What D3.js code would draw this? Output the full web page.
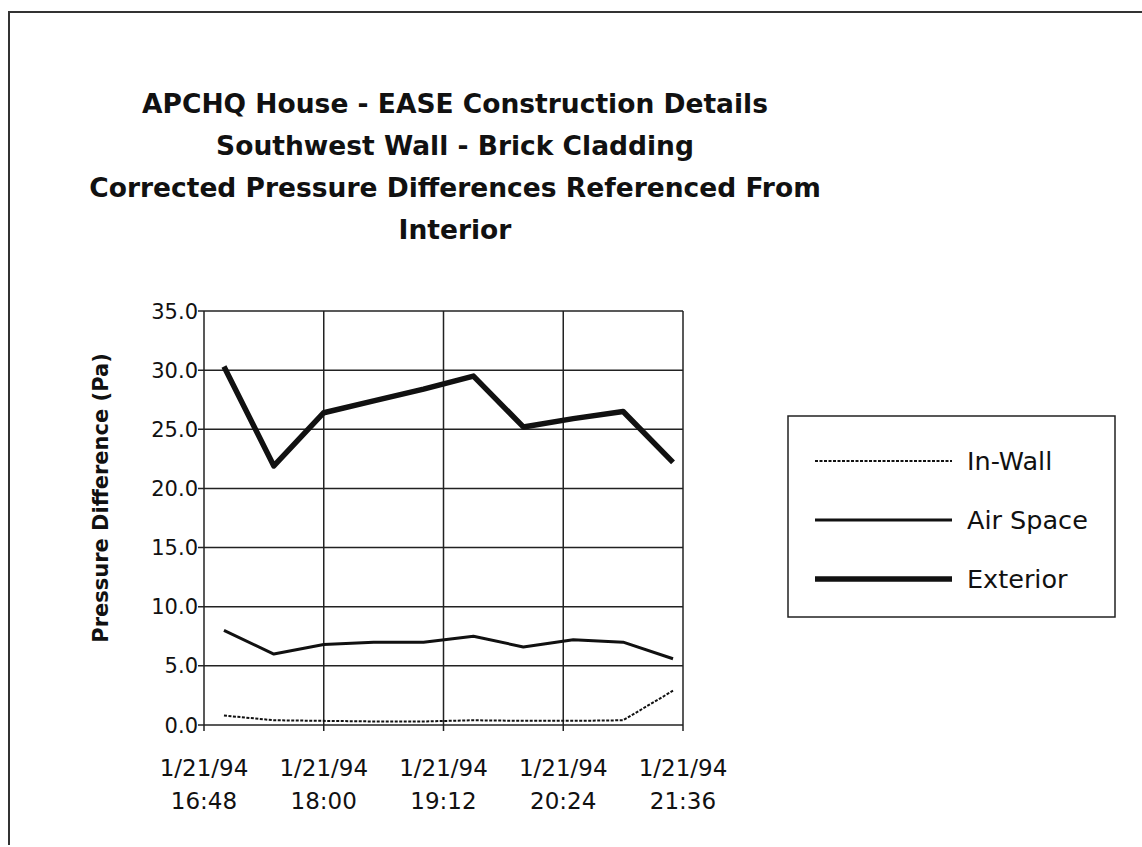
<!DOCTYPE html>
<meta charset="utf-8">
<style>
  body { margin: 0; background: #fff; }
  text { font-family: "DejaVu Sans", sans-serif; fill: #111; }
</style>
<body>
<script src="https://cdn.jsdelivr.net/npm/d3@7"></script>
<script>

// readings every half hour, 1/21/94
var times = ["17:00", "17:30", "18:00", "18:30", "19:00", "19:30", "20:00", "20:30", "21:00", "21:30"];
var inWall = [0.8, 0.4, 0.35, 0.3, 0.3, 0.4, 0.35, 0.35, 0.4, 2.9];
var airSpace = [8.0, 6.0, 6.8, 7.0, 7.0, 7.5, 6.6, 7.2, 7.0, 5.6];
var exterior = [30.3, 21.9, 26.4, 27.4, 28.4, 29.5, 25.2, 25.9, 26.5, 22.2];

var xTicks = ["16:48", "18:00", "19:12", "20:24", "21:36"];
var yTicks = [0, 5, 10, 15, 20, 25, 30, 35];
var dateLabel = "1/21/94";

var titleLines = [
  "APCHQ House - EASE Construction Details",
  "Southwest Wall - Brick Cladding",
  "Corrected Pressure Differences Referenced From",
  "Interior"
];
var seriesNames = ["In-Wall", "Air Space", "Exterior"];

var width = 1142,
    height = 847,
    plot = {left: 204, right: 683, top: 311, bottom: 725};

var parse = d3.timeParse("%m/%d/%y %H:%M");
var t = function(hm) { return parse("01/21/94 " + hm); };

var svg = d3.select("body").append("svg")
    .attr("width", width)
    .attr("height", height);

// outer frame of the scanned page
svg.append("path")
    .attr("d", "M9,845 L9,12 L1142,12")
    .attr("fill", "none")
    .attr("stroke", "#333")
    .attr("stroke-width", 2);

var x = d3.scaleTime()
    .domain([t(xTicks[0]), t(xTicks[xTicks.length - 1])])
    .range([plot.left, plot.right]);

var y = d3.scaleLinear()
    .domain([0, 35])
    .range([plot.bottom, plot.top]);

// title
svg.append("g").selectAll("text")
  .data(titleLines)
  .enter().append("text")
    .attr("x", 455)
    .attr("y", function(d, i) { return 113 + i * 42; })
    .attr("text-anchor", "middle")
    .style("font-size", "26.5px")
    .style("font-weight", "bold")
    .text(function(d) { return d; });

// grid
var grid = svg.append("g").attr("stroke", "#222").attr("stroke-width", 1.5);

grid.selectAll(".hy")
  .data(yTicks)
  .enter().append("line")
    .attr("x1", plot.left - 6)
    .attr("x2", plot.right)
    .attr("y1", function(d) { return y(d); })
    .attr("y2", function(d) { return y(d); });

grid.selectAll(".vx")
  .data(xTicks)
  .enter().append("line")
    .attr("x1", function(d) { return x(t(d)); })
    .attr("x2", function(d) { return x(t(d)); })
    .attr("y1", plot.top)
    .attr("y2", plot.bottom + 6);

// axis labels
svg.append("g").selectAll("text")
  .data(yTicks)
  .enter().append("text")
    .attr("x", plot.left - 6)
    .attr("y", function(d) { return y(d); })
    .attr("dy", "0.36em")
    .attr("text-anchor", "end")
    .style("font-size", "21px")
    .text(function(d) { return d3.format(".1f")(d); });

var xl = svg.append("g").selectAll("text")
  .data(xTicks)
  .enter().append("text")
    .attr("text-anchor", "middle")
    .style("font-size", "23px");

xl.append("tspan")
    .attr("x", function(d) { return x(t(d)); })
    .attr("y", 776)
    .text(dateLabel);

xl.append("tspan")
    .attr("x", function(d) { return x(t(d)); })
    .attr("y", 809)
    .text(function(d) { return d; });

svg.append("text")
    .attr("transform", "translate(108," + ((plot.top + plot.bottom) / 2 - 20) + ") rotate(-90)")
    .attr("text-anchor", "middle")
    .style("font-size", "21px")
    .style("font-weight", "bold")
    .text("Pressure Difference (Pa)");

// series
var styles = [
  {values: inWall, width: 2, dash: "3,1.5"},
  {values: airSpace, width: 3, dash: null},
  {values: exterior, width: 5.5, dash: null}
];

var line = d3.line()
    .x(function(d, i) { return x(t(times[i])); })
    .y(function(d) { return y(d); });

svg.append("g").selectAll("path")
  .data(styles)
  .enter().append("path")
    .attr("d", function(d) { return line(d.values); })
    .attr("fill", "none")
    .attr("stroke", "#111")
    .attr("stroke-width", function(d) { return d.width; })
    .attr("stroke-dasharray", function(d) { return d.dash; })
    .attr("stroke-linejoin", "round");

// legend
var legend = svg.append("g").attr("transform", "translate(788,416)");

legend.append("rect")
    .attr("width", 327)
    .attr("height", 201)
    .attr("fill", "#fff")
    .attr("stroke", "#222")
    .attr("stroke-width", 1.5);

var item = legend.selectAll(".item")
  .data(seriesNames)
  .enter().append("g")
    .attr("transform", function(d, i) { return "translate(0," + (45 + i * 59) + ")"; });

item.append("line")
    .attr("x1", 27)
    .attr("x2", 164)
    .attr("stroke", "#111")
    .attr("stroke-width", function(d, i) { return styles[i].width; })
    .attr("stroke-dasharray", function(d, i) { return styles[i].dash; });

item.append("text")
    .attr("x", 179)
    .attr("dy", "0.36em")
    .style("font-size", "25.5px")
    .text(function(d) { return d; });

</script>
</body>
